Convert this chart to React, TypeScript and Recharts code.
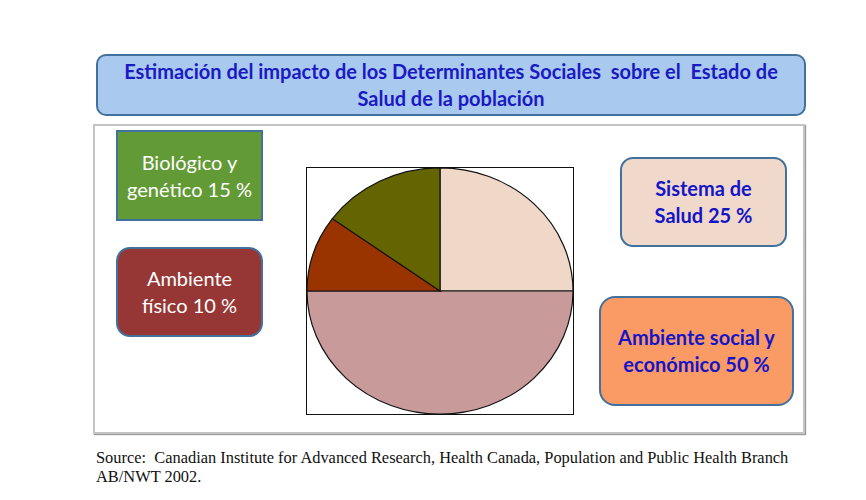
import React from 'react';
import { PieChart, Pie, Cell } from 'recharts';

const categories = ['Sistema de Salud', 'Ambiente social y económico', 'Ambiente físico', 'Biológico y genético'];
const shares = [25, 50, 10, 15];
const sliceColors = ['#f0d8c8', '#c99a9a', '#993300', '#646400'];

const title = ['Estimación del impacto de los Determinantes Sociales  sobre el  Estado de', 'Salud de la población'];
const source = ['Source:  Canadian Institute for Advanced Research, Health Canada, Population and Public Health Branch', 'AB/NWT 2002.'];

const data = categories.map((name, i) => ({ name, value: shares[i] }));

const font = 'Lato, "Open Sans", sans-serif';

function Label({ lines, style, color }: { lines: string[]; style: React.CSSProperties; color: string }) {
  return (
    <div style={{
      position: 'absolute', boxSizing: 'border-box', display: 'flex', flexDirection: 'column',
      justifyContent: 'center', alignItems: 'center', textAlign: 'center', fontFamily: font,
      fontSize: 20, lineHeight: '27px', color, border: '2.5px solid #41719c', ...style,
    }}>
      {lines.map((l) => <div key={l} style={{ whiteSpace: 'pre' }}>{l}</div>)}
    </div>
  );
}

export default function App() {
  return (
    <div style={{ position: 'absolute', left: 0, top: 0, width: 866, height: 500, background: '#fff', overflow: 'hidden' }}>
      {/* title box */}
      <div style={{
        position: 'absolute', left: 96, top: 54, width: 710, height: 62, boxSizing: 'border-box',
        background: '#a9c9ef', border: '2px solid #41719c', borderRadius: 10, display: 'flex',
        flexDirection: 'column', justifyContent: 'center', alignItems: 'center', fontFamily: font,
        fontWeight: 700, fontSize: 20, lineHeight: '27px', color: '#1a1ac4',
      }}>
        {title.map((l) => <div key={l} style={{ whiteSpace: 'pre' }}>{l}</div>)}
      </div>

      {/* gray frame */}
      <div style={{
        position: 'absolute', left: 93, top: 124, width: 712, height: 310, boxSizing: 'border-box',
        border: '2px solid #c4c4c4', boxShadow: '1px 1px 1px #999',
      }} />

      {/* pie box */}
      <div style={{ position: 'absolute', left: 306, top: 167, width: 268, height: 248, boxSizing: 'border-box', border: '1.5px solid #111' }} />
      <div style={{ position: 'absolute', left: 306, top: 167, width: 268, height: 268, transform: `scaleY(${248 / 268})`, transformOrigin: '0 0' }}>
        <PieChart width={268} height={268} margin={{ top: 0, right: 0, bottom: 0, left: 0 }}>
          <Pie data={data} dataKey="value" nameKey="name" cx={134} cy={134} outerRadius={133}
            startAngle={90} endAngle={-270} stroke="#111" strokeWidth={1.2} isAnimationActive={false}>
            {data.map((d, i) => <Cell key={d.name} fill={sliceColors[i]} />)}
          </Pie>
        </PieChart>
      </div>

      <Label lines={['Biológico y', 'genético 15 %']} color="#fff"
        style={{ left: 116, top: 130, width: 147, height: 91, background: '#629a35' }} />
      <Label lines={['Ambiente', 'físico 10 %']} color="#fff"
        style={{ left: 116, top: 247, width: 147, height: 90, background: '#963735', borderRadius: 14 }} />
      <Label lines={['Sistema de', 'Salud 25 %']} color="#1515c8"
        style={{ left: 620, top: 157, width: 167, height: 90, background: '#f0d9cb', borderRadius: 13, fontWeight: 700 }} />
      <Label lines={['Ambiente social y', 'económico 50 %']} color="#1515c8"
        style={{ left: 599, top: 296, width: 195, height: 110, background: '#fa9a64', borderRadius: 16, fontWeight: 700 }} />

      {/* source */}
      <div style={{ position: 'absolute', left: 96, top: 448, fontFamily: '"Liberation Serif", serif', fontSize: 16.4, lineHeight: '19px', color: '#111' }}>
        {source.map((l) => <div key={l} style={{ whiteSpace: 'pre' }}>{l}</div>)}
      </div>
    </div>
  );
}
